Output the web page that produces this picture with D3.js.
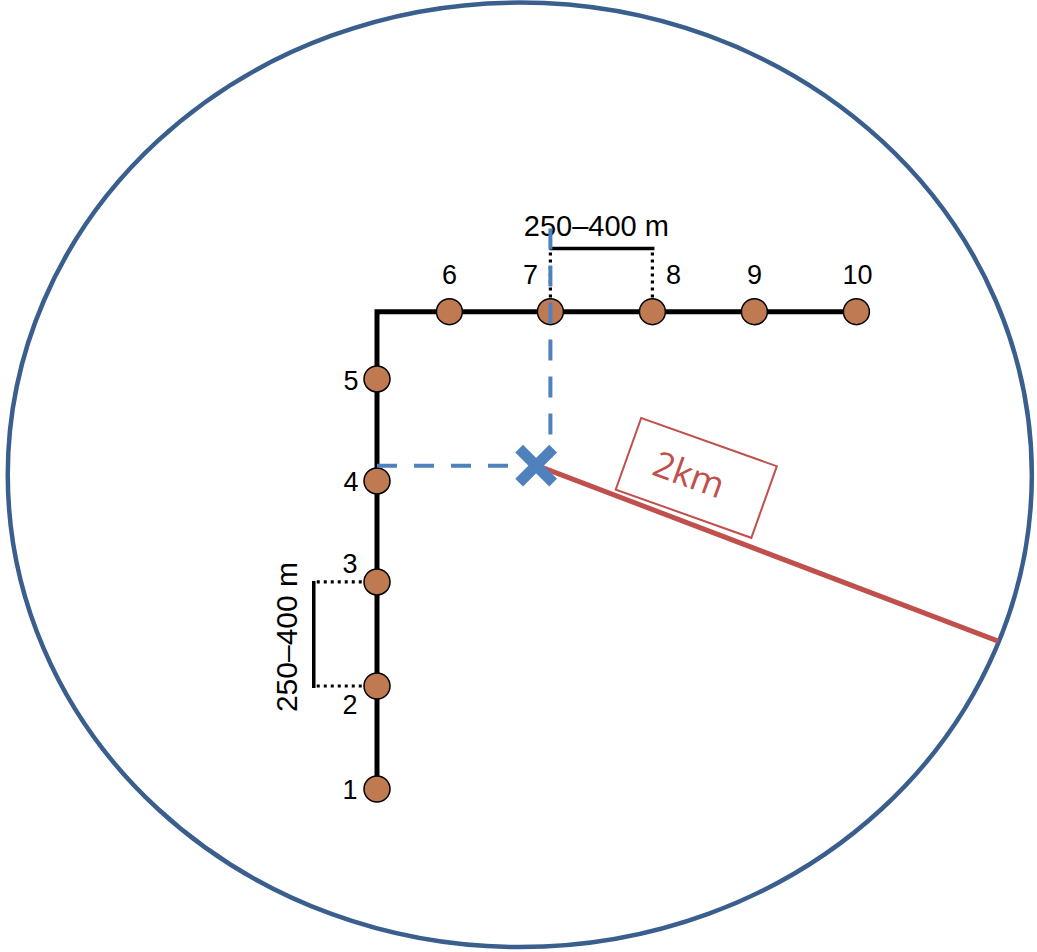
<!DOCTYPE html>
<html>
<head>
<meta charset="utf-8">
<script src="https://cdn.jsdelivr.net/npm/d3@7"></script>
<style>
  body { margin: 0; background: #fff; }
  text { font-family: "Liberation Sans", Arial, sans-serif; }
</style>
</head>
<body>
<svg id="chart" width="1037" height="952"></svg>
<script>
// station layout, in units of one station spacing (~250-400 m)
var stations = ["1", "2", "3", "4", "5", "6", "7", "8", "9", "10"];
var stationX = [0, 0, 0, 0, 0, 0.71, 1.70, 2.70, 3.70, 4.70];
var stationY = [0, 1.01, 2.03, 3.02, 4.02, 4.68, 4.68, 4.68, 4.68, 4.68];
var lineX = [0, 0, 4.70];
var lineY = [0, 4.68, 4.68];
var spacingLabel = "250\u2013400 m";
var site = [1.57, 3.17];          // centre of the array (blue cross)
var radiusEnd = [6.09, 1.45];     // end of the 2 km radius
var radiusLabel = "2km";
var labelAt = [3.13, 3.05];
var circleCentre = [1.40, 3.08];
var circleRadius = [5.02, 4.63];

var svg = d3.select("#chart");
var unit = 102;
var x = d3.scaleLinear().domain([0, 1]).range([377, 377 + unit]);
var y = d3.scaleLinear().domain([0, 1]).range([789, 789 - unit]);

var blue = "#4f81bd", red = "#c0504d", ring = "#3a5f8e";

// 2 km circle
svg.append("ellipse")
    .attr("cx", x(circleCentre[0]))
    .attr("cy", y(circleCentre[1]))
    .attr("rx", x(circleRadius[0]) - x(0))
    .attr("ry", y(0) - y(circleRadius[1]))
    .attr("fill", "none")
    .attr("stroke", ring)
    .attr("stroke-width", 4.5);

// radius line
svg.append("line")
    .attr("x1", x(site[0])).attr("y1", y(site[1]))
    .attr("x2", x(radiusEnd[0])).attr("y2", y(radiusEnd[1]))
    .attr("stroke", red)
    .attr("stroke-width", 5);

var lab = svg.append("g")
    .attr("transform", "translate(" + x(labelAt[0]) + "," + y(labelAt[1]) + ") rotate(19.6)");
lab.append("rect")
    .attr("x", -72).attr("y", -38)
    .attr("width", 144).attr("height", 76)
    .attr("fill", "none")
    .attr("stroke", red)
    .attr("stroke-width", 2);
lab.append("text")
    .attr("x", -8).attr("y", 12)
    .attr("text-anchor", "middle")
    .style("font-family", "'Open Sans', 'Noto Sans', sans-serif")
    .attr("font-size", 36)
    .attr("fill", red)
    .text(radiusLabel);

// station line
var path = d3.line()
    .x(function (d, i) { return x(lineX[i]); })
    .y(function (d, i) { return y(lineY[i]); });
svg.append("path")
    .attr("d", path(lineX))
    .attr("fill", "none")
    .attr("stroke", "#000")
    .attr("stroke-width", 5)
    .attr("stroke-linejoin", "miter");

// spacing brackets
var topY = 5.30, leftX = -0.62;
svg.append("line")
    .attr("x1", x(stationX[6]) - 1).attr("x2", x(stationX[7]) + 2)
    .attr("y1", y(topY)).attr("y2", y(topY))
    .attr("stroke", "#000").attr("stroke-width", 3.5);
[6, 7].forEach(function (i) {
    svg.append("line")
        .attr("x1", x(stationX[i])).attr("x2", x(stationX[i]))
        .attr("y1", y(topY) + 4).attr("y2", y(stationY[i]) - 12)
        .attr("stroke", "#000").attr("stroke-width", 3.2)
        .attr("stroke-dasharray", "3,4");
});
svg.append("text")
    .attr("x", (x(stationX[6]) + x(stationX[7])) / 2 - 5)
    .attr("y", y(topY) - 12)
    .attr("text-anchor", "middle")
    .attr("font-size", 29)
    .text(spacingLabel);

svg.append("line")
    .attr("x1", x(leftX)).attr("x2", x(leftX))
    .attr("y1", y(stationY[2]) - 1).attr("y2", y(stationY[1]) + 2)
    .attr("stroke", "#000").attr("stroke-width", 3.5);
[1, 2].forEach(function (i) {
    svg.append("line")
        .attr("x1", x(leftX) + 3).attr("x2", x(0) - 12)
        .attr("y1", y(stationY[i])).attr("y2", y(stationY[i]))
        .attr("stroke", "#000").attr("stroke-width", 3.2)
        .attr("stroke-dasharray", "3,4");
});
svg.append("text")
    .attr("transform", "translate(" + (x(leftX) - 17) + "," + (y(1.5) + 1) + ") rotate(-90)")
    .attr("text-anchor", "middle")
    .attr("font-size", 30)
    .text(spacingLabel);

// stations
svg.selectAll(".station")
    .data(stations)
    .enter()
    .append("circle")
    .attr("class", "station")
    .attr("cx", function (d, i) { return x(stationX[i]); })
    .attr("cy", function (d, i) { return y(stationY[i]); })
    .attr("r", 13)
    .attr("fill", "#bf7a52")
    .attr("stroke", "#000")
    .attr("stroke-width", 1.5);

// label offsets (px) from each station
var offsets = [[-27, 10], [-27, 28], [-27, -9], [-26, 10], [-26, 11],
               [0, -28], [-20, -28], [21, -28], [0, -28], [1, -28]];
svg.selectAll(".slabel")
    .data(stations)
    .enter()
    .append("text")
    .attr("class", "slabel")
    .attr("x", function (d, i) { return x(stationX[i]) + offsets[i][0]; })
    .attr("y", function (d, i) { return y(stationY[i]) + offsets[i][1]; })
    .attr("text-anchor", "middle")
    .attr("font-size", 27)
    .text(function (d) { return d; });

// blue dashed projections to the array centre (drawn over the stations)
svg.append("line")
    .attr("x1", x(stationX[6])).attr("x2", x(stationX[6]))
    .attr("y1", y(topY) - 20).attr("y2", y(site[1]) - 8)
    .attr("stroke", blue).attr("stroke-width", 4)
    .attr("stroke-dasharray", "21,16");
svg.append("line")
    .attr("x1", x(0)).attr("x2", x(site[0]) - 14)
    .attr("y1", y(site[1])).attr("y2", y(site[1]))
    .attr("stroke", blue).attr("stroke-width", 4)
    .attr("stroke-dasharray", "20,17");

// blue cross at the array centre
var cx = x(site[0]) - 1, cy = y(site[1]);
[[-17, -17, 17, 17], [-17, 17, 17, -17]].forEach(function (s) {
    svg.append("line")
        .attr("x1", cx + s[0]).attr("y1", cy + s[1])
        .attr("x2", cx + s[2]).attr("y2", cy + s[3])
        .attr("stroke", blue)
        .attr("stroke-width", 11);
});
</script>
</body>
</html>
